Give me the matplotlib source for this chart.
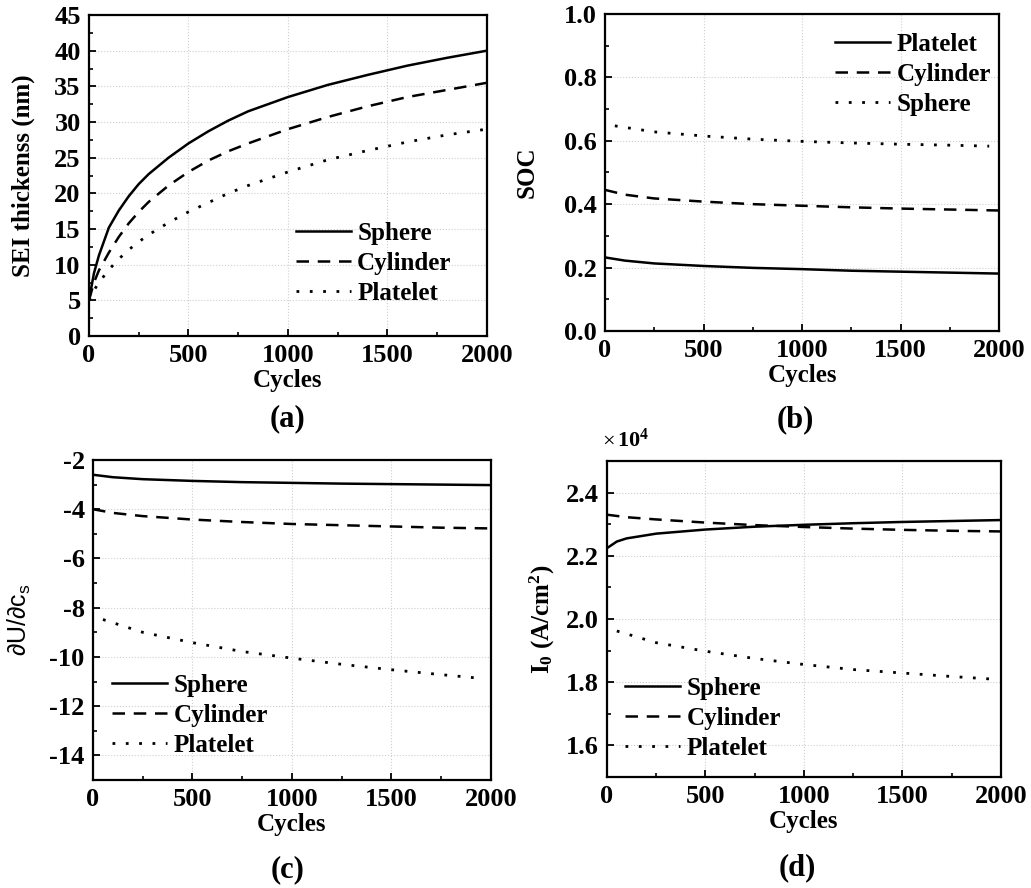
import matplotlib
matplotlib.use("Agg")
import matplotlib.pyplot as plt
from matplotlib.ticker import MultipleLocator

plt.rcParams["font.family"] = ["Liberation Serif", "DejaVu Serif"]
plt.rcParams["font.weight"] = "bold"
plt.rcParams["axes.labelweight"] = "bold"
plt.rcParams["mathtext.default"] = "regular"
plt.rcParams["axes.unicode_minus"] = False

# (a) SEI thickness (nm) vs cycles
cyc_a = [0, 25, 50, 100, 150, 200, 250, 300, 400, 500, 600, 700, 800, 1000, 1200, 1400, 1600, 1800, 2000]
sei_sphere = [5, 8.8, 11.3, 15.2, 17.6, 19.6, 21.3, 22.7, 25.0, 27.0, 28.7, 30.2, 31.5, 33.5, 35.2, 36.6, 37.9, 39, 40]
sei_cylinder = [5, 7.5, 9.2, 11.7, 13.9, 15.8, 17.4, 18.8, 21.1, 23.0, 24.6, 25.9, 27, 29, 30.7, 32.2, 33.5, 34.5, 35.5]
sei_platelet = [5, 6.4, 7.5, 9.3, 10.8, 12.1, 13.2, 14.2, 15.9, 17.4, 18.7, 20, 21.1, 23, 24.7, 26, 27.2, 28.2, 29]

# (b) SOC
cyc_b = [0, 100, 250, 500, 750, 1000, 1250, 1500, 1750, 2000]
soc_platelet = [0.232, 0.222, 0.213, 0.205, 0.199, 0.195, 0.190, 0.187, 0.184, 0.181]
soc_cylinder = [0.445, 0.430, 0.418, 0.408, 0.400, 0.395, 0.390, 0.386, 0.383, 0.380]
cyc_dot = [50, 250, 500, 750, 1000, 1250, 1500, 1750, 1950]
soc_sphere = [0.647, 0.628, 0.615, 0.605, 0.598, 0.593, 0.589, 0.586, 0.583]

# (c) dU/dcs
cyc_c = [0, 100, 250, 500, 750, 1000, 1250, 1500, 1750, 2000]
du_sphere = [-2.6, -2.7, -2.78, -2.85, -2.9, -2.93, -2.96, -2.98, -3.0, -3.02]
du_cylinder = [-4.0, -4.15, -4.28, -4.42, -4.52, -4.6, -4.65, -4.7, -4.75, -4.78]
du_platelet = [-8.48, -9.0, -9.42, -9.78, -10.05, -10.3, -10.52, -10.72, -10.87]

# (d) I0 (x1e4 A/cm2)
cyc_d = [0, 50, 100, 250, 500, 750, 1000, 1250, 1500, 1750, 2000]
i0_sphere = [2.224, 2.245, 2.255, 2.27, 2.283, 2.292, 2.298, 2.303, 2.307, 2.310, 2.313]
i0_cylinder = [2.330, 2.326, 2.322, 2.315, 2.305, 2.297, 2.291, 2.286, 2.282, 2.279, 2.277]
i0_platelet = [1.962, 1.925, 1.898, 1.875, 1.856, 1.84, 1.829, 1.818, 1.81]

solid = dict(color="black", lw=1.8, ls="-")
dashed = dict(color="black", lw=1.8, ls=(0, (5, 3.5)))
dotted = dict(color="black", lw=2.0, ls=(0, (1, 3.8)))

fig = plt.figure(figsize=(10.31, 8.88), dpi=100)
ax_a = fig.add_axes([0.0863, 0.6216, 0.386, 0.3615])
ax_b = fig.add_axes([0.5868, 0.6273, 0.3822, 0.357])
ax_c = fig.add_axes([0.0902, 0.1216, 0.386, 0.3604])
ax_d = fig.add_axes([0.5887, 0.125, 0.3822, 0.3559])


def style(ax, ymaj, ymin):
    ax.set_xlim(0, 2000)
    ax.xaxis.set_major_locator(MultipleLocator(500))
    ax.xaxis.set_minor_locator(MultipleLocator(250))
    ax.yaxis.set_major_locator(MultipleLocator(ymaj))
    ax.yaxis.set_minor_locator(MultipleLocator(ymin))
    ax.tick_params(which="both", direction="in", top=False, right=False, labelsize=19, pad=6)
    ax.tick_params(which="major", length=5, width=1.3)
    ax.tick_params(which="minor", length=3, width=1.2)
    ax.grid(True, which="major", color="#cfcfcf", ls=":", lw=0.8)
    for sp in ax.spines.values():
        sp.set_linewidth(1.6)
    ax.set_xlabel("Cycles", fontsize=18, labelpad=1)


leg_kw = dict(frameon=False, fontsize=18, handlelength=2.2, handletextpad=0.25,
              labelspacing=0.28, borderpad=0, borderaxespad=0)

# (a)
ax_a.plot(cyc_a, sei_sphere, label="Sphere", **solid)
ax_a.plot(cyc_a, sei_cylinder, label="Cylinder", **dashed)
ax_a.plot(cyc_a, sei_platelet, label="Platelet", **dotted)
style(ax_a, 5, 2.5)
ax_a.set_ylim(0, 45)
ax_a.set_ylabel("SEI thickenss (nm)", fontsize=18, labelpad=14)
ax_a.legend(loc="upper left", bbox_to_anchor=(0.52, 0.356), **leg_kw)

# (b)
ax_b.plot(cyc_b, soc_platelet, label="Platelet", **solid)
ax_b.plot(cyc_b, soc_cylinder, label="Cylinder", **dashed)
ax_b.plot(cyc_dot, soc_sphere, label="Sphere", **dotted)
style(ax_b, 0.2, 0.1)
ax_b.set_ylim(0, 1.0)
ax_b.yaxis.set_major_formatter(lambda v, p: f"{v:.1f}")
ax_b.set_ylabel("SOC", fontsize=18, labelpad=18)
ax_b.legend(loc="upper left", bbox_to_anchor=(0.584, 0.94), **leg_kw)

# (c)
ax_c.plot(cyc_c, du_sphere, label="Sphere", **solid)
ax_c.plot(cyc_c, du_cylinder, label="Cylinder", **dashed)
ax_c.plot(cyc_dot, du_platelet, label="Platelet", **dotted)
style(ax_c, 2, 1)
ax_c.set_ylim(-15, -2)
ax_c.set_ylabel("∂U/∂c$_\\mathregular{s}$", fontsize=18, fontweight="normal",
                family=["Liberation Sans", "DejaVu Sans"], labelpad=12)
ax_c.legend(loc="upper left", bbox_to_anchor=(0.048, 0.331), **leg_kw)

# (d)
ax_d.plot(cyc_d, i0_sphere, label="Sphere", **solid)
ax_d.plot(cyc_d, i0_cylinder, label="Cylinder", **dashed)
ax_d.plot(cyc_dot, i0_platelet, label="Platelet", **dotted)
style(ax_d, 0.2, 0.1)
ax_d.set_ylim(1.5, 2.5)
ax_d.yaxis.set_major_formatter(lambda v, p: f"{v:.1f}")
ax_d.set_ylabel("I$_\\mathregular{0}$ (A/cm$^\\mathregular{2}$)", fontsize=18, labelpad=6)
ax_d.text(-0.012, 1.03, "×", transform=ax_d.transAxes, fontsize=16,
          fontweight="normal", va="bottom", ha="left")
ax_d.text(0.025, 1.03, "10$^\\mathregular{4}$", transform=ax_d.transAxes, fontsize=16,
          va="bottom", ha="left")
ax_d.legend(loc="upper left", bbox_to_anchor=(0.046, 0.316), **leg_kw)

for lab, x, y in [("(a)", 0.279, 0.529), ("(b)", 0.771, 0.527),
                  ("(c)", 0.279, 0.021), ("(d)", 0.773, 0.023)]:
    fig.text(x, y, lab, fontsize=22, ha="center", va="center")

fig.savefig("out.png", dpi=100, facecolor="white")
